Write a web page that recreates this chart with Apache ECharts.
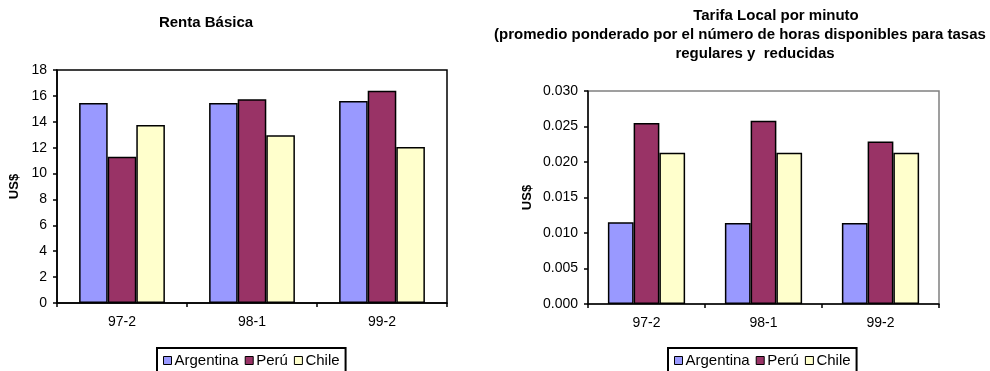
<!DOCTYPE html>
<html>
<head>
<meta charset="utf-8">
<script src="https://cdn.jsdelivr.net/npm/echarts@6/dist/echarts.min.js"></script>
<style>
  html, body { margin: 0; padding: 0; background: #fff; }
  #chart { width: 990px; height: 371px; }
</style>
</head>
<body>
<div id="chart"></div>
<script>
var periods = ['97-2', '98-1', '99-2'];
var countries = ['Argentina', 'Perú', 'Chile'];
var colors = ['#9999FF', '#993366', '#FFFFCC'];

// Renta Básica (US$)
var rentaArgentina = [15.45, 15.45, 15.6];
var rentaPeru = [11.3, 15.75, 16.4];
var rentaChile = [13.75, 12.95, 12.05];

// Tarifa Local por minuto (US$)
var tarifaArgentina = [0.0115, 0.0114, 0.0114];
var tarifaPeru = [0.0255, 0.0258, 0.0229];
var tarifaChile = [0.0213, 0.0213, 0.0213];

var chartDom = document.getElementById('chart');
var myChart = echarts.init(chartDom);
var font = 'Liberation Sans, Arial, sans-serif';

function xAxisFor(gridIndex) {
  return {
    type: 'category',
    gridIndex: gridIndex,
    data: periods,
    axisLine: { lineStyle: { color: '#000', width: 1.5 } },
    axisTick: { show: true, length: 4, lineStyle: { color: '#000', width: 1.5 } },
    axisLabel: { color: '#000', fontFamily: font, fontSize: 14, margin: 12 }
  };
}

function yAxisFor(gridIndex, max, interval, nameGap, digits) {
  return {
    type: 'value',
    gridIndex: gridIndex,
    min: 0,
    max: max,
    interval: interval,
    name: 'US$',
    nameLocation: 'middle',
    nameGap: nameGap,
    nameTextStyle: { fontFamily: font, fontSize: 13, fontWeight: 'bold', color: '#000' },
    axisLine: { show: true, lineStyle: { color: '#000', width: 1.5 } },
    axisTick: { show: true, length: 4, lineStyle: { color: '#000', width: 1.5 } },
    splitLine: { show: false },
    axisLabel: {
      color: '#000', fontFamily: font, fontSize: 14, margin: 10,
      formatter: function (v) { return v.toFixed(digits); }
    }
  };
}

function barSeries(name, data, idx, axisIndex) {
  return {
    name: name,
    type: 'bar',
    xAxisIndex: axisIndex,
    yAxisIndex: axisIndex,
    data: data,
    barGap: '0%',
    barCategoryGap: '34%',
    itemStyle: { color: colors[idx], borderColor: '#000', borderWidth: 1.5 }
  };
}

var legendBase = {
  data: countries,
  orient: 'horizontal',
  icon: 'rect',
  itemWidth: 8,
  itemHeight: 8,
  itemGap: 6,
  padding: [5, 6, 5, 6],
  borderColor: '#000',
  borderWidth: 2,
  selectedMode: false,
  itemStyle: { borderColor: '#000', borderWidth: 1 },
  textStyle: { color: '#000', fontFamily: font, fontSize: 15, padding: [0, 0, 0, -2] }
};

function titleLine(text, x, y) {
  return {
    text: text,
    left: x,
    top: y,
    padding: 0,
    textAlign: 'center',
    textStyle: { fontFamily: font, fontSize: 15, fontWeight: 'bold', color: '#000' }
  };
}

var option = {
  animation: false,
  backgroundColor: '#fff',
  color: colors,
  title: [
    titleLine('Renta Básica', 206, 15),
    titleLine('Tarifa Local por minuto', 776, 8),
    titleLine('(promedio ponderado por el número de horas disponibles para tasas', 740, 27),
    titleLine('regulares y  reducidas', 755, 46)
  ],
  legend: [
    Object.assign({}, legendBase, { left: 157, top: 348 }),
    Object.assign({}, legendBase, { left: 668, top: 348 })
  ],
  grid: [
    { left: 57, top: 70, width: 390, height: 233, show: true, borderColor: '#000', borderWidth: 1.5 },
    { left: 588, top: 91, width: 351, height: 213, show: true, borderColor: '#808080', borderWidth: 1.5 }
  ],
  xAxis: [xAxisFor(0), xAxisFor(1)],
  yAxis: [
    yAxisFor(0, 18, 2, 36, 0),
    yAxisFor(1, 0.03, 0.005, 54, 3)
  ],
  series: [
    barSeries('Argentina', rentaArgentina, 0, 0),
    barSeries('Perú', rentaPeru, 1, 0),
    barSeries('Chile', rentaChile, 2, 0),
    barSeries('Argentina', tarifaArgentina, 0, 1),
    barSeries('Perú', tarifaPeru, 1, 1),
    barSeries('Chile', tarifaChile, 2, 1)
  ]
};

myChart.setOption(option);
</script>
</body>
</html>
